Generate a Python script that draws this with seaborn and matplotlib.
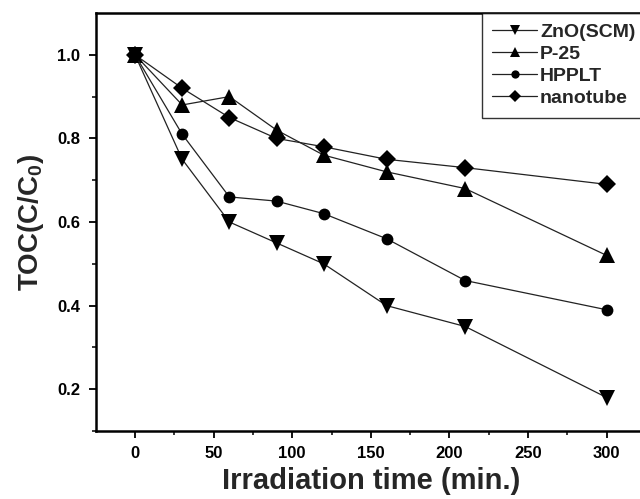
import matplotlib
matplotlib.use("Agg")
import matplotlib.pyplot as plt
import seaborn as sns
import pandas as pd
import numpy as np

time = [0, 30, 60, 90, 120, 160, 210, 300]
zno_scm = [1.0, 0.75, 0.60, 0.55, 0.50, 0.40, 0.35, 0.18]
p25 = [1.0, 0.88, 0.90, 0.82, 0.76, 0.72, 0.68, 0.52]
hpplt = [1.0, 0.81, 0.66, 0.65, 0.62, 0.56, 0.46, 0.39]
nanotube = [1.0, 0.92, 0.85, 0.80, 0.78, 0.75, 0.73, 0.69]

series_names = ["ZnO(SCM)", "P-25", "HPPLT", "nanotube"]
series_values = [zno_scm, p25, hpplt, nanotube]
markers = ["v", "^", "o", "D"]
msizes = [11, 11, 8.5, 9]

sns.set_theme(style="white")
plt.rcParams["font.family"] = ["Liberation Sans", "DejaVu Sans"]
plt.rcParams["font.weight"] = "bold"
plt.rcParams["mathtext.fontset"] = "custom"
plt.rcParams["mathtext.bf"] = "Liberation Sans:bold"
plt.rcParams["mathtext.rm"] = "Liberation Sans:bold"

fig = plt.figure(figsize=(6.4, 4.99), dpi=100)
ax = fig.add_axes([95.7 / 640, (499 - 431) / 499, (646 - 95.7) / 640, (431 - 13) / 499])

for name, vals, mk, ms in zip(series_names, series_values, markers, msizes):
    df = pd.DataFrame({"t": time, "v": vals})
    sns.lineplot(data=df, x="t", y="v", ax=ax, color="#222222", linewidth=0.9,
                 marker=mk, markersize=ms, markeredgewidth=0, markerfacecolor="black",
                 label=name)

ax.set_xlim(-25, 325)
ax.set_ylim(0.1, 1.1)
ax.set_xticks(np.arange(0, 301, 50))
ax.set_xticks(np.arange(25, 326, 50), minor=True)
ax.set_yticks([0.2, 0.4, 0.6, 0.8, 1.0])
ax.set_yticks([0.1, 0.3, 0.5, 0.7, 0.9], minor=True)
ax.set_yticklabels(["0.2", "0.4", "0.6", "0.8", "1.0"])
ax.tick_params(axis="both", which="major", direction="out", length=5, width=1.3,
               labelsize=12, colors="black", bottom=True, left=True, pad=6)
ax.tick_params(axis="both", which="minor", direction="out", length=3, width=1.3,
               bottom=True, left=True)
for lab in ax.get_xticklabels() + ax.get_yticklabels():
    lab.set_fontweight("bold")

for sp in ax.spines.values():
    sp.set_linewidth(1.8)
    sp.set_color("black")

ax.set_xlabel("Irradiation time (min.)", fontsize=21, fontweight="bold", labelpad=4)
ax.set_ylabel(r"TOC(C/C$_\mathbf{0}$)", fontsize=20, fontweight="bold", labelpad=8)

leg = ax.legend(loc="upper right", bbox_to_anchor=(1.0, 1.0), borderaxespad=0,
                frameon=True, fancybox=False, edgecolor="black", fontsize=14,
                handlelength=2.3, handletextpad=0.15, labelspacing=0.22,
                borderpad=0.55, markerscale=0.7)
leg.get_frame().set_linewidth(1.0)
for t in leg.get_texts():
    t.set_fontweight("bold")

fig.savefig("out.png", dpi=100)
